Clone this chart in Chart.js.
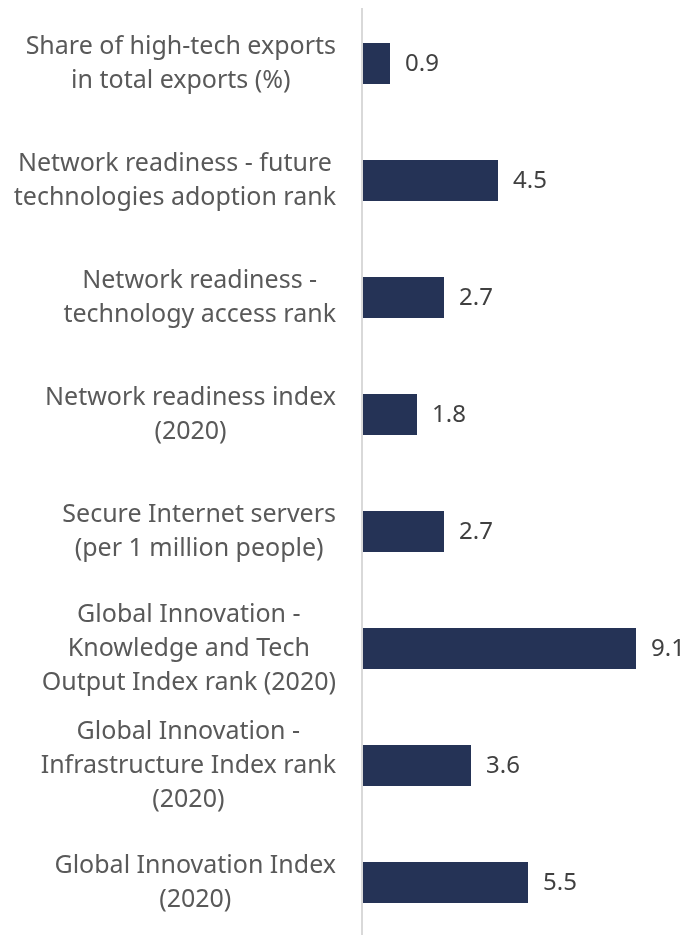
<!DOCTYPE html>
<html>
<head>
<meta charset="utf-8">
<script src="https://cdn.jsdelivr.net/npm/chart.js@4"></script>
<style>
  html, body { margin: 0; padding: 0; background: #fff; overflow: hidden; }
  #wrap { width: 690px; height: 944px; }
</style>
</head>
<body>
<div id="wrap"><canvas id="myBarChart"></canvas></div>
<script>
var categories = [
    ["Share of high-tech exports", "in total exports (%)"],
    ["Network readiness - future", "technologies adoption rank"],
    ["Network readiness -", "technology access rank"],
    ["Network readiness index", "(2020)"],
    ["Secure Internet servers", "(per 1 million people)"],
    ["Global Innovation -", "Knowledge and Tech", "Output Index rank (2020)"],
    ["Global Innovation -", "Infrastructure Index rank", "(2020)"],
    ["Global Innovation Index", "(2020)"]
];
var values = [0.9, 4.5, 2.7, 1.8, 2.7, 9.1, 3.6, 5.5];

var labelFont = '25px "Noto Sans", sans-serif';
var lineGap = 34;

// Kateqoriya adları və dəyərlər ayrıca çəkilir (Excel-də olduğu kimi mərkəzlənmiş sətirlər)
var labelPlugin = {
    id: 'labelPlugin',
    afterDraw: function(chart) {
        var ctx = chart.ctx;
        var yScale = chart.scales.y;
        var area = chart.chartArea;
        ctx.save();

        // Şaquli ox xətti
        ctx.strokeStyle = '#d9d9d9';
        ctx.lineWidth = 2;
        ctx.beginPath();
        ctx.moveTo(area.left - 1, 8);
        ctx.lineTo(area.left - 1, 935);
        ctx.stroke();

        ctx.font = labelFont;
        ctx.fillStyle = '#595959';
        ctx.textBaseline = 'middle';
        categories.forEach(function(lines, i) {
            var y = yScale.getPixelForValue(i);
            var widths = lines.map(function(l) { return ctx.measureText(l).width; });
            var maxW = Math.max.apply(null, widths);
            var centerX = area.left - 27 - maxW / 2;
            ctx.textAlign = 'center';
            lines.forEach(function(l, k) {
                ctx.fillText(l, centerX, y + (k - (lines.length - 1) / 2) * lineGap);
            });
        });

        ctx.font = '24px "Noto Sans", sans-serif';
        ctx.fillStyle = '#404040';
        ctx.textAlign = 'left';
        chart.getDatasetMeta(0).data.forEach(function(bar, i) {
            ctx.fillText(values[i].toFixed(1), bar.x + 15, bar.y + 1);
        });
        ctx.restore();
    }
};

var ctxBar = document.getElementById("myBarChart");
new Chart(ctxBar, {
    type: 'bar',
    data: {
        labels: categories,
        datasets: [{
            data: values,
            backgroundColor: '#253356',
            borderWidth: 0,
            barPercentage: 0.7,
            categoryPercentage: 0.5
        }]
    },
    options: {
        indexAxis: 'y',
        maintainAspectRatio: false,
        animation: false,
        layout: { padding: { left: 0, right: 27, top: 5, bottom: 3 } },
        plugins: {
            legend: { display: false },
            tooltip: { enabled: false }
        },
        scales: {
            x: {
                min: 0,
                max: 10,
                display: false
            },
            y: {
                grid: { display: false },
                border: { display: false },
                ticks: { display: false },
                afterFit: function(scale) { scale.width = 363; }
            }
        }
    },
    plugins: [labelPlugin]
});
</script>
</body>
</html>
